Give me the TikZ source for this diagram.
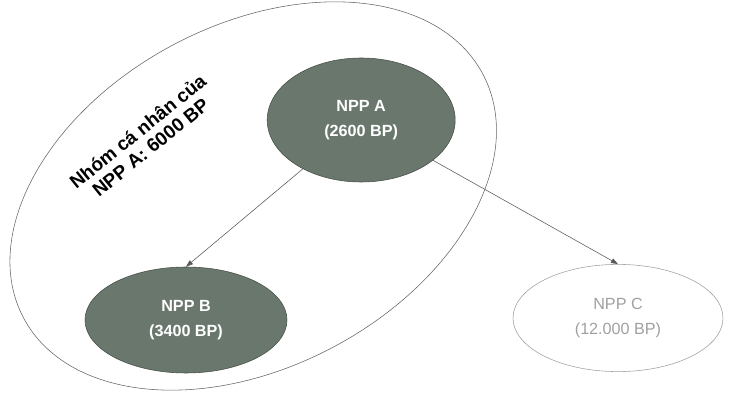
\documentclass[tikz,border=0pt]{standalone}
\usepackage{fontspec}
\setmainfont{Liberation Sans}
\usepackage{xcolor}
\usetikzlibrary{shapes.geometric, arrows.meta}
\definecolor{nppfill}{RGB}{106,119,109}
\definecolor{nppedge}{RGB}{70,80,72}
\definecolor{lightnpp}{RGB}{160,160,160}

\begin{document}
\begin{tikzpicture}[
    nppbox/.style   = {ellipse, draw=nppedge, fill=nppfill, text=white,
                       inner sep=0pt, align=center,
                       font=\fontsize{11.5}{18}\selectfont\bfseries},
    outbox/.style   = {ellipse, draw=lightnpp, text=lightnpp, thin,
                       inner sep=0pt, align=center,
                       font=\fontsize{11.5}{18}\selectfont},
    groupbox/.style = {ellipse, draw=black!60, thin, inner sep=0pt},
    arr/.style      = {-{Triangle[length=5pt, width=3.5pt]}, black!65, thin},
]
\useasboundingbox (0,0) rectangle (18.3,9.9);

%% ── Personal group of NPP A ─────────────────────────────────────────────────
\node[groupbox, minimum width=13cm, minimum height=8.55cm, rotate=28]
                                  (grp)   at (6.33,5.0) {};
\node[font=\fontsize{13.5}{14.5}\selectfont\bfseries, align=center, rotate=39]
                                  (grplbl) at (3.6,6.42) {Nhóm cá nhân của\\NPP A: 6000 BP};

%% ── Distributors ────────────────────────────────────────────────────────────
\node[nppbox, minimum width=4.7cm, minimum height=3.1cm]
                                  (nppA)  at (9.03,6.9)  {NPP A\\(2600 BP)};
\node[nppbox, minimum width=5.05cm, minimum height=2.65cm]
                                  (nppB)  at (4.65,1.9)  {NPP B\\(3400 BP)};
\node[outbox, minimum width=5.25cm, minimum height=2.68cm]
                                  (nppC)  at (15.45,1.95) {NPP C\\(12.000 BP)};

%% ── Sponsor arrows ──────────────────────────────────────────────────────────
\draw[arr] (nppA) -- (nppB.north);
\draw[arr] (nppA) -- (nppC.north);

\end{tikzpicture}
\end{document}
